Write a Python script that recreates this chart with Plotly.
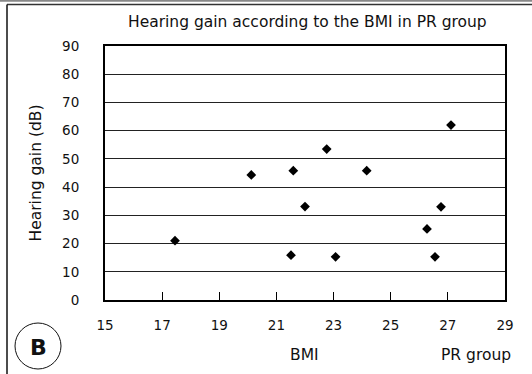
import plotly.graph_objects as go

bmi = [17.45, 20.12, 21.59, 21.51, 22.0, 22.76, 23.07, 24.16, 26.27, 26.55, 26.76, 27.11]
gain = [21.0, 44.3, 45.8, 15.9, 33.1, 53.5, 15.3, 45.8, 25.2, 15.3, 33.0, 62.0]
x_ticks = [15, 17, 19, 21, 23, 25, 27, 29]
y_ticks = [0, 10, 20, 30, 40, 50, 60, 70, 80, 90]

W, H = 532, 374
L, R, T, B = 105, 505, 46, 300
FONT = "DejaVu Sans"
FS = 13.5
FL = 15.5

def px(x):
    return (x - L) / (R - L)

def py(y):
    return (B - y) / (B - T)

fig = go.Figure()
fig.add_trace(go.Scatter(
    x=bmi, y=gain, mode="markers",
    marker=dict(symbol="diamond", size=7.5, color="black"),
    showlegend=False,
))

fig.update_layout(
    width=W, height=H,
    margin=dict(l=L, r=W - R, t=T, b=H - B),
    paper_bgcolor="white", plot_bgcolor="white",
    font=dict(family=FONT, size=FS, color="#111"),
    xaxis=dict(
        range=[15, 29], tickvals=x_ticks, ticktext=[str(v) for v in x_ticks],
        showgrid=False, zeroline=False,
        showline=True, linecolor="black", linewidth=2, mirror=True,
        ticks="inside", ticklen=8, tickcolor="black", tickwidth=1,
        ticklabelstandoff=12,
        tickfont=dict(family=FONT, size=FS, color="#111"),
    ),
    yaxis=dict(
        range=[0, 90], tickvals=y_ticks, ticktext=[str(v) for v in y_ticks],
        showgrid=True, gridcolor="#222", gridwidth=1, zeroline=False,
        showline=True, linecolor="black", linewidth=2, mirror=True,
        ticks="", ticklabelstandoff=21,
        tickfont=dict(family=FONT, size=FS, color="#111"),
        title=dict(text="Hearing gain (dB)", font=dict(family=FONT, size=FL, color="#111"), standoff=17),
    ),
    annotations=[
        dict(text="Hearing gain according to the BMI in PR group", x=px(307), y=py(22),
             xref="paper", yref="paper", showarrow=False, xanchor="center", yanchor="middle",
             font=dict(family=FONT, size=FL, color="#111")),
        dict(text="BMI", x=px(304), y=py(355), xref="paper", yref="paper", showarrow=False,
             xanchor="center", yanchor="middle", font=dict(family=FONT, size=FL, color="#111")),
        dict(text="PR group", x=px(476), y=py(355), xref="paper", yref="paper", showarrow=False,
             xanchor="center", yanchor="middle", font=dict(family=FONT, size=FL, color="#111")),
        dict(text="<b>B</b>", x=px(38), y=py(347), xref="paper", yref="paper", showarrow=False,
             xanchor="center", yanchor="middle", font=dict(family=FONT, size=22, color="#111")),
    ],
    shapes=[
        dict(type="line", xref="paper", yref="paper", x0=px(0), x1=px(W), y0=py(0.8), y1=py(0.8),
             line=dict(color="#888", width=2)),
        dict(type="line", xref="paper", yref="paper", x0=px(7), x1=px(W), y0=py(4.5), y1=py(4.5),
             line=dict(color="#333", width=1.5)),
        dict(type="line", xref="paper", yref="paper", x0=px(7), x1=px(7), y0=py(4.5), y1=py(H),
             line=dict(color="#111", width=1.5)),
        dict(type="circle", xref="paper", yref="paper", x0=px(15), x1=px(61), y0=py(369), y1=py(323),
             line=dict(color="#111", width=1)),
    ],
)

fig.write_html("out.html")
